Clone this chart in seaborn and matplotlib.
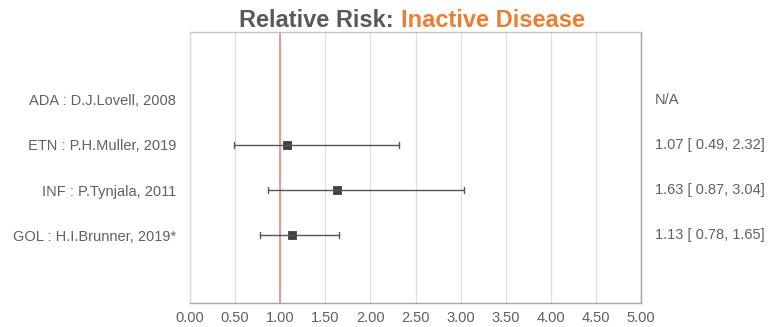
import matplotlib
matplotlib.use("Agg")
import matplotlib.pyplot as plt
import seaborn as sns
import pandas as pd
import numpy as np
from matplotlib import font_manager

studies = ["ADA : D.J.Lovell, 2008", "ETN : P.H.Muller, 2019",
           "INF : P.Tynjala, 2011", "GOL : H.I.Brunner, 2019*"]
rr = [np.nan, 1.07, 1.63, 1.13]
ci_low = [np.nan, 0.49, 0.87, 0.78]
ci_high = [np.nan, 2.32, 3.04, 1.65]
right_labels = ["N/A", "1.07 [ 0.49, 2.32]", "1.63 [ 0.87, 3.04]", "1.13 [ 0.78, 1.65]"]
xticks = [0.0, 0.5, 1.0, 1.5, 2.0, 2.5, 3.0, 3.5, 4.0, 4.5, 5.0]

sns.set_theme(style="white")
names = {f.name for f in font_manager.fontManager.ttflist}
base_font = "Liberation Sans" if "Liberation Sans" in names else "DejaVu Sans"
plt.rcParams["font.family"] = [base_font, "DejaVu Sans"]

rows = []
for s, lo, m, hi in zip(studies, ci_low, rr, ci_high):
    for v in (lo, m, hi):
        rows.append({"study": s, "value": v})
df = pd.DataFrame(rows).dropna()

fig = plt.figure(figsize=(7.69, 3.27), dpi=100)
ax = fig.add_axes([190/769, 1-303/327, 451/769, 271/327])

sns.pointplot(data=df, x="value", y="study", order=studies,
              estimator="median", errorbar=lambda v: (np.min(v), np.max(v)),
              orient="h", linestyle="none", marker="s", markersize=5,
              color="#404040", err_kws={"linewidth": 1.0, "color": "#555555"},
              capsize=0.14, ax=ax)

ax.set_xlim(0, 5)
ax.set_ylim(4.5, -1.5)
ax.set_xticks(xticks)
ax.set_xticklabels([f"{t:.2f}" for t in xticks])
ax.set_xlabel("")
ax.set_ylabel("")
ax.grid(axis="x", color="#e0e0e0", linewidth=1)
ax.set_axisbelow(True)
ax.axvline(1.0, color="#f08c8c", linewidth=1.3, zorder=1.5)
ax.tick_params(axis="both", length=0, labelsize=10.5, colors="#606060", pad=6)
ax.tick_params(axis="y", pad=10)
for lbl in ax.get_yticklabels():
    lbl.set_color("#606060")
for side, c in [("left", "#dcdcdc"), ("top", "#c4c4c4"), ("right", "#a6a6a6"), ("bottom", "#a6a6a6")]:
    ax.spines[side].set_visible(True)
    ax.spines[side].set_color(c)
    ax.spines[side].set_linewidth(1.0)

for i, t in enumerate(right_labels):
    ax.text(1.031, i, t, transform=ax.get_yaxis_transform(), ha="left", va="center",
            fontsize=10.5, color="#606060")

# Two-colour title
fig.canvas.draw()
r = fig.canvas.get_renderer()
t1 = fig.text(0, 0.937, "Relative Risk: ", fontsize=17, fontweight="bold",
              color="#595959", va="center")
t2 = fig.text(0, 0.937, "Inactive Disease", fontsize=17, fontweight="bold",
              color="#ED7D31", va="center")
w1 = t1.get_window_extent(r).width
w2 = t2.get_window_extent(r).width
cx = 412
x0 = cx - (w1 + w2) / 2
t1.set_x(x0 / fig.bbox.width)
t2.set_x((x0 + w1) / fig.bbox.width)

fig.savefig("out.png", dpi=100)
